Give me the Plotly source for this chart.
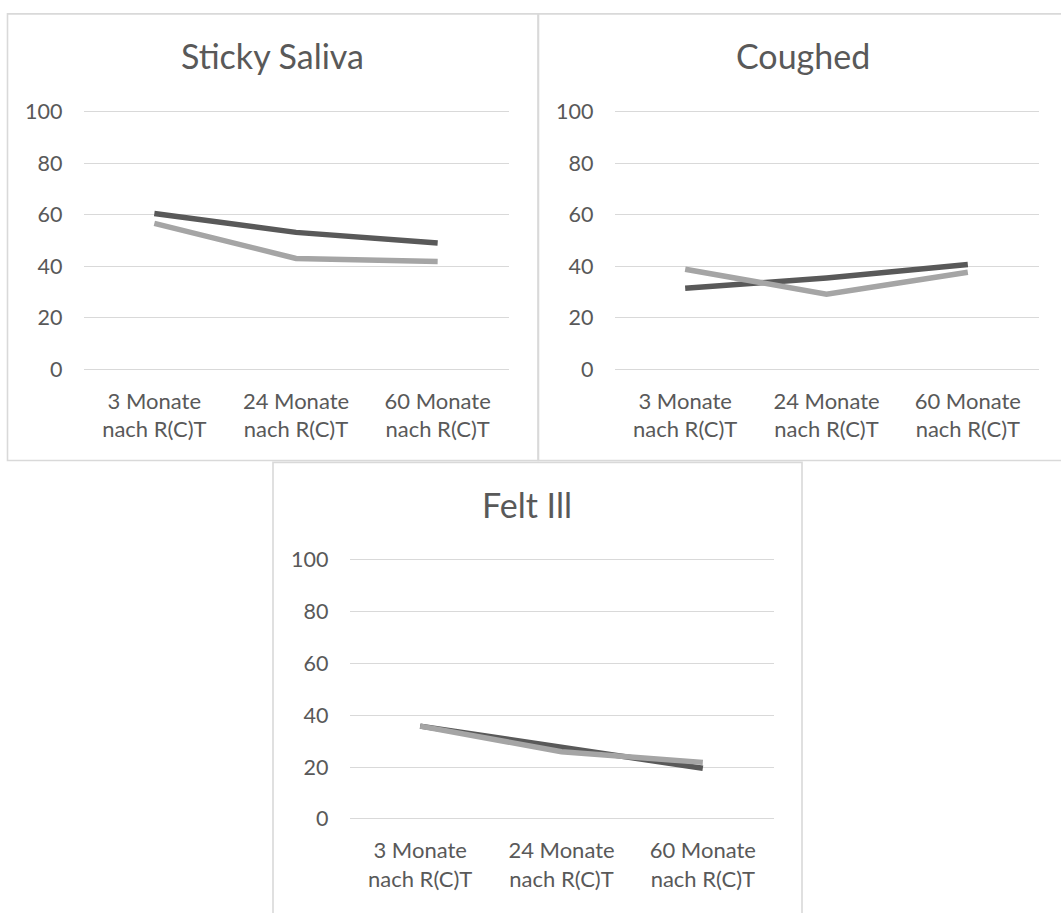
import plotly.graph_objects as go

W, H = 1061, 913

categories = ["3 Monate<br>nach R(C)T", "24 Monate<br>nach R(C)T", "60 Monate<br>nach R(C)T"]
panel_titles = ["Sticky Saliva", "Coughed", "Felt Ill"]
y_ticks = [0, 20, 40, 60, 80, 100]

sticky_dark = [60.5, 53.2, 49.1]
sticky_light = [56.7, 43.1, 41.9]
coughed_dark = [31.5, 35.5, 40.7]
coughed_light = [38.9, 29.2, 37.7]
feltill_dark = [35.8, 27.8, 19.5]
feltill_light = [35.8, 25.9, 21.8]

series_names = ["Gruppe 1", "Gruppe 2"]
dark_color = "#595959"
light_color = "#A5A5A5"
text_color = "#595959"
grid_color = "#D9D9D9"
FONT = "Lato"

panels = [
    dict(xp=(83.5, 508.5), y0=367.5, ppu=2.62, box=(7.5, 6, 538, 460), tc=(272.5, 48),
         dark=sticky_dark, light=sticky_light),
    dict(xp=(614.5, 1038.5), y0=367.5, ppu=2.62, box=(538.5, 6, 1080, 460), tc=(802.5, 48),
         dark=coughed_dark, light=coughed_light),
    dict(xp=(349.5, 773.5), y0=824.4, ppu=2.634, box=(273, 462, 802, 940), tc=(527, 505),
         dark=feltill_dark, light=feltill_light),
]

fig = go.Figure()
shapes = []
annotations = []
layout_axes = {}

for i, p in enumerate(panels):
    n = "" if i == 0 else str(i + 1)
    xa, ya = "x" + n, "y" + n
    fig.add_trace(go.Scatter(x=categories, y=p["dark"], mode="lines", name=series_names[0],
                             line=dict(color=dark_color, width=5.5), xaxis=xa, yaxis=ya,
                             showlegend=False))
    fig.add_trace(go.Scatter(x=categories, y=p["light"], mode="lines", name=series_names[1],
                             line=dict(color=light_color, width=5.5), xaxis=xa, yaxis=ya,
                             showlegend=False))
    lo, hi = -2, 102
    ytop = p["y0"] - p["ppu"] * hi
    ybot = p["y0"] - p["ppu"] * lo
    layout_axes["xaxis" + n] = dict(
        domain=[p["xp"][0] / W, p["xp"][1] / W], anchor=ya, type="category",
        range=[-0.5, 2.5], showgrid=False, zeroline=False, showline=False,
        ticks="", ticklabelstandoff=11,
        tickfont=dict(family=FONT, size=22, color=text_color), fixedrange=True)
    layout_axes["yaxis" + n] = dict(
        domain=[1 - ybot / H, 1 - ytop / H], anchor=xa, range=[lo, hi],
        tickmode="array", tickvals=y_ticks, ticktext=[str(v) for v in y_ticks],
        showgrid=True, gridcolor=grid_color, gridwidth=1.3, zeroline=False,
        showline=False, ticks="", ticklabelstandoff=20,
        tickfont=dict(family=FONT, size=21.5, color=text_color), fixedrange=True)
    x0, y0, x1, y1 = p["box"]
    shapes.append(dict(type="rect", xref="paper", yref="paper", x0=x0 / W, x1=x1 / W,
                       y0=1 - y1 / H, y1=1 - y0 / H, line=dict(color=grid_color, width=1.6),
                       fillcolor="rgba(0,0,0,0)", layer="below"))
    annotations.append(dict(text=panel_titles[i], xref="paper", yref="paper",
                            x=p["tc"][0] / W, y=1 - p["tc"][1] / H, xanchor="center",
                            yanchor="middle", showarrow=False,
                            font=dict(family=FONT, size=34, color=text_color)))

fig.update_layout(
    width=W, height=H, margin=dict(l=0, r=0, t=0, b=0),
    paper_bgcolor="white", plot_bgcolor="rgba(0,0,0,0)",
    shapes=shapes, annotations=annotations, showlegend=False,
    **layout_axes)

fig.write_html("out.html", config={"displayModeBar": False})
